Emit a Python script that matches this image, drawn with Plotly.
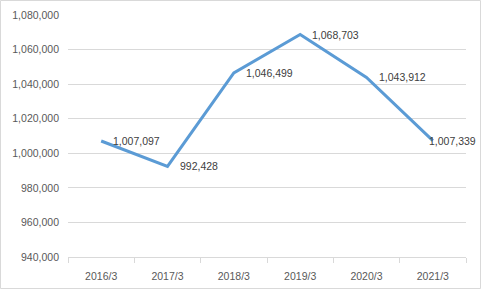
import plotly.graph_objects as go

categories = ["2016/3", "2017/3", "2018/3", "2019/3", "2020/3", "2021/3"]
values = [1007097, 992428, 1046499, 1068703, 1043912, 1007339]
labels = ["1,007,097", "992,428", "1,046,499", "1,068,703", "1,043,912", "1,007,339"]

W, H = 481, 289
L, R, T, B = 68, 15, 15, 32
pw, ph = W - L - R, H - T - B

fig = go.Figure()
fig.add_trace(go.Scatter(
    x=categories, y=values, mode="lines",
    line=dict(color="#5B9BD5", width=3),
    cliponaxis=False, hoverinfo="skip",
))

for i, (c, v, t) in enumerate(zip(categories, values, labels)):
    last = i == len(categories) - 1
    fig.add_annotation(
        x=c, y=v, text=t, showarrow=False,
        xanchor="left", yanchor="middle",
        xshift=-6 if last else 10, yshift=0,
        font=dict(family="Liberation Sans", size=10.5, color="#404040"),
    )

fig.update_layout(
    width=W, height=H,
    margin=dict(l=L, r=R, t=T, b=B, autoexpand=False),
    paper_bgcolor="white", plot_bgcolor="white",
    showlegend=False,
    xaxis=dict(
        type="category", tickson="boundaries", showgrid=False,
        ticks="outside", ticklen=5, tickcolor="#d9d9d9",
        showline=True, linecolor="#d9d9d9", linewidth=1,
        tickfont=dict(family="Liberation Sans", size=10.5, color="#595959"),
        ticklabelstandoff=9, automargin=False,
        range=[-0.5, 5.5],
    ),
    yaxis=dict(
        range=[940000, 1080000], dtick=20000, tickformat=",",
        showgrid=True, gridcolor="#d9d9d9", gridwidth=1,
        zeroline=False, showline=False, ticks="",
        tickfont=dict(family="Liberation Sans", size=10.5, color="#595959"),
        ticklabelstandoff=8, automargin=False,
    ),
    shapes=[dict(
        type="rect", xref="paper", yref="paper",
        x0=(0.5 - L) / pw, x1=1 + (R - 0.5) / pw,
        y0=-(B - 0.5) / ph, y1=1 + (T - 0.5) / ph,
        line=dict(color="#d9d9d9", width=1), layer="below",
    )],
)

fig.write_html("out.html")
